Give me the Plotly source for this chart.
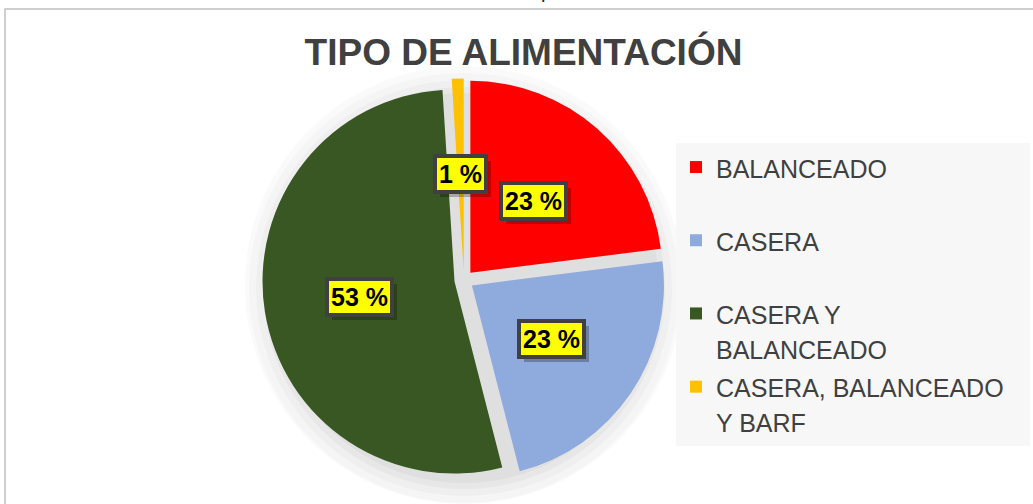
import math
import plotly.graph_objects as go

# ---- data ----
categorias = ["BALANCEADO", "CASERA", "CASERA Y BALANCEADO", "CASERA, BALANCEADO Y BARF"]
etiquetas_leyenda = ["BALANCEADO<br>\u00a0", "CASERA<br>\u00a0", "CASERA Y<br>BALANCEADO",
                     "CASERA, BALANCEADO\u00a0\u00a0\u00a0<br>Y BARF"]
porcentajes = [23, 23, 53, 1]
colores = ["#ff0000", "#8faadc", "#385723", "#ffc000"]
separacion = [0.05, 0.05, 0.05, 0.05]
titulo = "TIPO DE ALIMENTACIÓN"

W, H = 1033, 504
CX, CY = 464, 280          # pie centre in px (from top-left)
SIDE = 403.2               # pie domain side in px
R = SIDE / (2 + 2 * max(separacion))

def dom(cx, cy, side):
    return dict(x=[max(0, (cx - side / 2) / W), min(1, (cx + side / 2) / W)],
                y=[max(0, 1 - (cy + side / 2) / H), min(1, 1 - (cy - side / 2) / H)])

fig = go.Figure()

# soft shadow behind the pie
for rad, alpha in [(222, 0.02), (215, 0.02), (208, 0.025), (201, 0.03), (195, 0.03)]:
    fig.add_trace(go.Pie(values=[1], labels=["sombra%d" % rad], showlegend=False,
                         marker=dict(colors=["rgba(0,0,0,%s)" % alpha], line=dict(width=0)),
                         textinfo="none", hoverinfo="skip", sort=False,
                         domain=dom(CX, CY + 8, 2 * rad)))

fig.add_trace(go.Pie(
    labels=["<span style='font-size:25px'>%s</span>" % t for t in etiquetas_leyenda],
    values=porcentajes,
    marker=dict(colors=colores, line=dict(width=0)),
    pull=separacion, sort=False, direction="clockwise", rotation=0,
    textinfo="none", hoverinfo="label+percent",
    domain=dom(CX, CY, SIDE),
))

# data labels computed from the slice angles
annotations = []
total = sum(porcentajes)
acum = 0
for v, p in zip(porcentajes, separacion):
    mid = math.radians((acum + v / 2) / total * 360)
    acum += v
    rr = (0.5 + p) * R
    px = CX + rr * math.sin(mid)
    py = CY - rr * math.cos(mid)
    txt = "<b>%d %%</b>" % v
    common = dict(x=px / W, y=1 - py / H, xref="paper", yref="paper", showarrow=False,
                  xanchor="center", yanchor="middle", borderpad=2)
    a_sh = dict(common); a_sh.update(text=txt, bgcolor="rgba(0,0,0,0.25)", borderwidth=4,
                                     bordercolor="rgba(0,0,0,0)", xshift=5, yshift=-5,
                                     font=dict(family="Liberation Sans, Arial", size=25, color="rgba(0,0,0,0)"))
    a = dict(common); a.update(text=txt, bgcolor="#ffff00", bordercolor="#404040", borderwidth=4,
                               font=dict(family="Liberation Sans, Arial", size=25, color="#000000"))
    annotations += [a_sh, a]

# clipped glyph at top (text above the chart)
annotations.append(dict(text="p", x=546 / W, y=1, xref="paper", yref="paper", showarrow=False,
                        xanchor="center", yanchor="bottom", yshift=-4,
                        font=dict(family="Liberation Sans, Arial", size=20, color="#222222")))

fig.update_layout(
    width=W, height=H,
    margin=dict(l=0, r=0, t=0, b=0),
    paper_bgcolor="white", plot_bgcolor="white",
    title=dict(text="<b>%s</b>" % titulo, x=523.5 / W, xanchor="center",
               y=1 - 52 / H, yanchor="middle", yref="container",
               font=dict(family="Liberation Sans, Arial", size=37, color="#404040")),
    showlegend=True,
    legend=dict(x=676 / W, xanchor="left", y=1 - 143 / H, yanchor="top",
                bgcolor="#f7f7f7", valign="top",
                font=dict(family="Liberation Sans, Arial", size=27, color="#404040")),
    annotations=annotations,
    shapes=[dict(type="rect", xref="paper", yref="paper",
                 x0=5 / W, x1=1.05, y0=-0.1, y1=1 - 9 / H,
                 line=dict(color="#c0c0c0", width=1.5), layer="below")],
)

fig.write_html("out.html", config={"displayModeBar": False},
               post_script="document.body.style.margin='0';document.body.style.overflow='hidden';")
